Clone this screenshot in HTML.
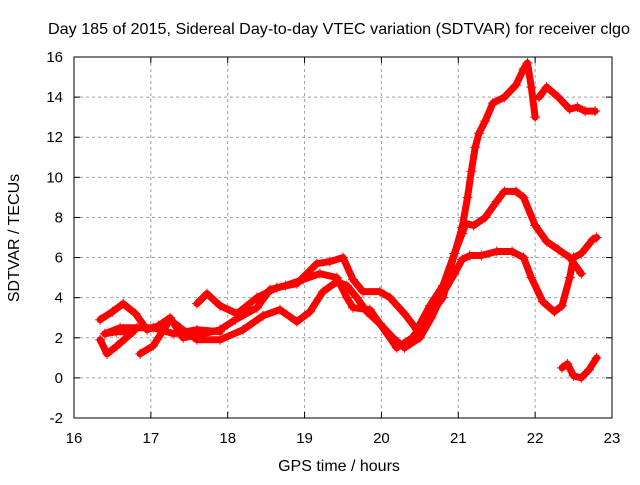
<!DOCTYPE html>
<html><head><meta charset="utf-8"><style>
body{margin:0;background:#fff;}
svg text{font-family:"Liberation Sans",sans-serif;font-size:15px;fill:#000;}
</style></head><body>
<svg id="chart" width="640" height="480" viewBox="0 0 640 480" xmlns="http://www.w3.org/2000/svg">
<text x="48" y="34" textLength="582" lengthAdjust="spacingAndGlyphs" style="font-size:16px">Day 185 of 2015, Sidereal Day-to-day VTEC variation (SDTVAR) for receiver clgo</text>
<g id="grid"></g>
<g id="ticks"></g>
<g id="series"></g>
<rect x="74" y="57" width="538" height="361" fill="none" stroke="#000" stroke-width="1"/>
<text x="339" y="471" text-anchor="middle" style="font-size:16px">GPS time / hours</text>
<text transform="translate(19,238) rotate(-90)" text-anchor="middle" style="font-size:16px">SDTVAR / TECUs</text>
</svg>
<script>
const xTicks=[16,17,18,19,20,21,22,23];
const yTicks=[-2,0,2,4,6,8,10,12,14,16];
const seriesA=[[16.34,2.9],[16.5,3.3],[16.64,3.7],[16.8,3.2],[16.95,2.4],[17.1,2.6],[17.25,3.0],[17.42,2.0],[17.68,2.2],[17.9,2.4],[18.1,2.9],[18.38,3.5],[18.55,4.4],[18.75,4.6],[18.98,4.9],[19.2,5.2],[19.42,5.0],[19.55,4.0],[19.63,3.5],[19.85,3.4],[19.98,2.7],[20.15,2.0],[20.3,1.5],[20.5,2.0],[20.65,3.0],[20.8,4.2],[20.95,5.2],[21.05,5.9],[21.15,6.1],[21.3,6.1],[21.5,6.3],[21.7,6.3],[21.85,6.0],[21.95,5.0],[22.1,3.8],[22.25,3.3],[22.35,3.6],[22.45,5.0],[22.5,6.0],[22.6,6.2],[22.75,6.9],[22.8,7.0]];
const seriesB=[[17.6,3.7],[17.73,4.2],[17.9,3.6],[18.12,3.2],[18.38,4.0],[18.64,4.5],[18.9,4.7],[19.16,5.7],[19.33,5.8],[19.5,6.0],[19.63,4.9],[19.76,4.3],[19.98,4.3],[20.11,4.0],[20.3,3.2],[20.46,2.4],[20.63,3.6],[20.8,4.6],[20.95,6.2],[21.05,7.2],[21.1,7.7],[21.2,7.6],[21.35,8.0],[21.5,8.8],[21.6,9.3],[21.75,9.3],[21.85,9.0],[22.0,7.6],[22.15,6.8],[22.3,6.4],[22.45,6.0],[22.6,5.2]];
const seriesC=[[16.86,1.2],[17.03,1.6],[17.25,2.9],[17.38,2.5],[17.6,1.9],[17.9,1.9],[18.2,2.4],[18.46,3.1],[18.68,3.4],[18.9,2.8],[19.07,3.3],[19.24,4.3],[19.42,4.8],[19.55,4.6],[19.68,4.0],[19.81,3.3],[19.98,2.7],[20.2,1.5],[20.4,2.0],[20.6,3.0],[20.8,4.0],[20.9,5.5],[21.05,7.5],[21.12,9.0],[21.17,10.3],[21.22,11.5],[21.27,12.2],[21.35,12.8],[21.45,13.7],[21.6,14.0],[21.75,14.6],[21.85,15.4],[21.9,15.7],[21.95,14.5],[22.0,13.0]];
const seriesD=[[16.34,1.9],[16.43,1.2],[16.56,1.6],[16.77,2.3],[16.55,2.3],[16.4,2.2],[16.6,2.5],[16.82,2.5],[17.03,2.5],[17.3,2.2],[17.6,2.4],[17.9,2.3]];
const seriesE=[[22.05,14.0],[22.15,14.5],[22.3,14.0],[22.45,13.4],[22.55,13.5],[22.65,13.3],[22.78,13.3]];
const seriesF=[[22.35,0.5],[22.42,0.7],[22.5,0.1],[22.6,0.0],[22.7,0.4],[22.8,1.0]];
const allSeries=[seriesA,seriesB,seriesC,seriesD,seriesE,seriesF];
const NS='http://www.w3.org/2000/svg';
const X0=74,X1=612,Y0=418,Y1=57,xmin=16,xmax=23,ymin=-2,ymax=16;
function sx(t){return X0+(t-xmin)/(xmax-xmin)*(X1-X0);}
function sy(v){return Y0-(v-ymin)/(ymax-ymin)*(Y0-Y1);}
function mk(tag,attrs,parent){const e=document.createElementNS(NS,tag);for(const k in attrs)e.setAttribute(k,attrs[k]);parent.appendChild(e);return e;}
const grid=document.getElementById('grid'),ticks=document.getElementById('ticks'),ser=document.getElementById('series');
xTicks.forEach(t=>{
  const x=sx(t);
  if(t>xmin&&t<xmax){const g=mk('line',{x1:x,x2:x,y1:Y1,y2:Y0,stroke:'#a0a0a0','stroke-dasharray':'3,3'},grid);
  
  }
  mk('line',{x1:x,x2:x,y1:Y0,y2:Y0-6,stroke:'#000'},ticks);
  mk('line',{x1:x,x2:x,y1:Y1,y2:Y1+6,stroke:'#000'},ticks);
  const l=mk('text',{x:x,y:443,'text-anchor':'middle'},ticks);l.textContent=t;
  
  
});
yTicks.forEach(v=>{
  const y=sy(v);
  if(v>ymin&&v<ymax){const g=mk('line',{x1:X0,x2:X1,y1:y,y2:y,stroke:'#a0a0a0','stroke-dasharray':'3,3'},grid);
  
  }
  mk('line',{x1:X0,x2:X0+6,y1:y,y2:y,stroke:'#000'},ticks);
  mk('line',{x1:X1,x2:X1-6,y1:y,y2:y,stroke:'#000'},ticks);
  const l=mk('text',{x:63,y:y+5,'text-anchor':'end'},ticks);l.textContent=v;
  
  
});
allSeries.forEach((s,i)=>{
  const p=mk('polyline',{points:s.map(d=>sx(d[0])+','+sy(d[1])).join(' '),fill:'none',stroke:'#ff0000','stroke-width':7,'stroke-linejoin':'round','stroke-linecap':'round'},ser);
  
  
  s.forEach(d=>{
    const x=sx(d[0]),y=sy(d[1]);
    const m=mk('path',{d:`M${x-5},${y}H${x+5}M${x},${y-5}V${y+5}`,stroke:'#ff0000','stroke-width':1},ser);
    
    
  });
});
</script>
</body></html>
